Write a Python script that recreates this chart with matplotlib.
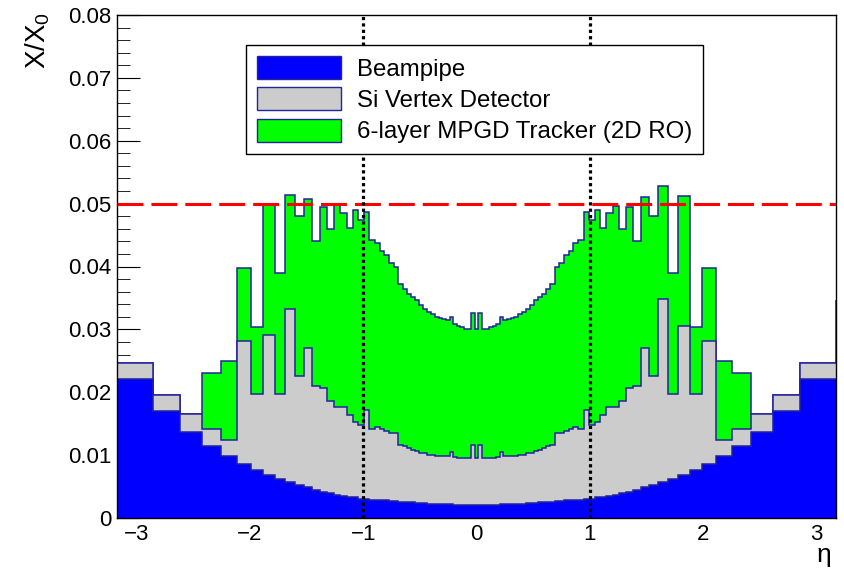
import numpy as np
import matplotlib
matplotlib.use("Agg")
import matplotlib.pyplot as plt
from matplotlib.patches import Patch
from matplotlib.ticker import MultipleLocator

plt.rcParams['font.family'] = 'Liberation Sans'
plt.rcParams['mathtext.fontset'] = 'custom'
plt.rcParams['mathtext.rm'] = 'Liberation Sans'
plt.rcParams['mathtext.it'] = 'Liberation Sans:italic'

# binning: 95 equal steps in polar angle, 175.2 deg -> 4.8 deg
theta_edges = np.linspace(175.2, 4.8, 96)
eta_edges = -np.log(np.tan(np.radians(theta_edges) / 2))

# stacked tops (X/X0) per bin
beampipe = [
    0.0221, 0.0170, 0.0136, 0.0115, 0.0099, 0.0086, 0.0077, 0.0069, 0.0062, 0.0058,
    0.0053, 0.0049, 0.0045, 0.0042, 0.0039, 0.0037, 0.0035, 0.0034, 0.0033, 0.0031,
    0.0030, 0.0029, 0.0029, 0.0028, 0.0028, 0.0027, 0.0027, 0.0026, 0.0026, 0.0025,
    0.0025, 0.0024, 0.0024, 0.0024, 0.0023, 0.0023, 0.0023, 0.0022, 0.0022, 0.0022,
    0.0022, 0.0021, 0.0021, 0.0021, 0.0021, 0.0021, 0.0021, 0.0021,
    0.0021, 0.0021, 0.0021, 0.0021, 0.0021, 0.0021, 0.0022,
    0.0022, 0.0022, 0.0022, 0.0023, 0.0023, 0.0023, 0.0024, 0.0024, 0.0024, 0.0025,
    0.0025, 0.0026, 0.0026, 0.0027, 0.0027, 0.0028, 0.0028, 0.0029, 0.0029, 0.0030,
    0.0031, 0.0033, 0.0034, 0.0035, 0.0037, 0.0039, 0.0042, 0.0045, 0.0049, 0.0053,
    0.0058, 0.0062, 0.0069, 0.0077, 0.0086, 0.0099, 0.0115, 0.0136, 0.0170, 0.0221,
]
vertex_top = [
    0.0247, 0.0196, 0.0165, 0.0142, 0.0124, 0.0282, 0.0197, 0.0291, 0.0197, 0.0333,
    0.0226, 0.0270, 0.0210, 0.0206, 0.0186, 0.0177, 0.0176, 0.0164, 0.0152, 0.0148,
    0.0172, 0.0141, 0.0144, 0.0141, 0.0139, 0.0135, 0.0135, 0.0116, 0.0114, 0.0111,
    0.0108, 0.0106, 0.0104, 0.0103, 0.0100, 0.0100, 0.0099, 0.0099, 0.0099, 0.0098,
    0.0105, 0.0097, 0.0096, 0.0096, 0.0095, 0.0095, 0.0116, 0.0095,
    0.0116, 0.0095, 0.0095, 0.0096, 0.0096, 0.0097, 0.0105,
    0.0098, 0.0099, 0.0099, 0.0099, 0.0100, 0.0100, 0.0103, 0.0104, 0.0106, 0.0108,
    0.0111, 0.0114, 0.0116, 0.0135, 0.0135, 0.0139, 0.0141, 0.0144, 0.0141, 0.0172,
    0.0148, 0.0152, 0.0164, 0.0176, 0.0177, 0.0186, 0.0206, 0.0210, 0.0270, 0.0226,
    0.0348, 0.0197, 0.0305, 0.0197, 0.0282, 0.0124, 0.0142, 0.0165, 0.0196, 0.0247,
]
tracker_top = [
    0.0247, 0.0196, 0.0165, 0.0230, 0.0249, 0.0398, 0.0304, 0.0498, 0.0390, 0.0514,
    0.0481, 0.0508, 0.0441, 0.0494, 0.0459, 0.0498, 0.0485, 0.0461, 0.0490, 0.0474,
    0.0486, 0.0442, 0.0438, 0.0424, 0.0418, 0.0406, 0.0399, 0.0372, 0.0364, 0.0357,
    0.0352, 0.0346, 0.0339, 0.0333, 0.0328, 0.0324, 0.0320, 0.0318, 0.0317, 0.0315,
    0.0320, 0.0309, 0.0305, 0.0303, 0.0301, 0.0301, 0.0326, 0.0301,
    0.0326, 0.0301, 0.0301, 0.0303, 0.0305, 0.0309, 0.0320,
    0.0315, 0.0317, 0.0318, 0.0320, 0.0324, 0.0328, 0.0333, 0.0339, 0.0346, 0.0352,
    0.0357, 0.0364, 0.0372, 0.0399, 0.0406, 0.0418, 0.0424, 0.0438, 0.0442, 0.0486,
    0.0474, 0.0490, 0.0461, 0.0485, 0.0497, 0.0459, 0.0494, 0.0441, 0.0510, 0.0481,
    0.0528, 0.0390, 0.0512, 0.0304, 0.0398, 0.0249, 0.0230, 0.0165, 0.0196, 0.0247,
]
outside_total = 0.0347  # total of the bins just outside the drawn range

labels = ["Beampipe", "Si Vertex Detector", "6-layer MPGD Tracker (2D RO)"]
colors = ["#0000ff", "#cccccc", "#00ff00"]
line_col = "#23239a"

limit_x0 = 0.05
eta_marks = [-1, 1]
x_ticks = [-3, -2, -1, 0, 1, 2, 3]
y_ticks = [0, 0.01, 0.02, 0.03, 0.04, 0.05, 0.06, 0.07, 0.08]
y_ticklabels = ["0", "0.01", "0.02", "0.03", "0.04", "0.05", "0.06", "0.07", "0.08"]

fig = plt.figure(figsize=(8.45, 5.70), dpi=100)
ax = fig.add_axes([117 / 845, 1 - 518 / 570, 719 / 845, 503 / 570])
ax.set_axisbelow(True)

# draw top of stack first, like THStack
for top, col in [(tracker_top, colors[2]), (vertex_top, colors[1]), (beampipe, colors[0])]:
    ax.stairs(top, eta_edges, baseline=0, fill=True, color=col, lw=0, zorder=2)
    ax.stairs(top, eta_edges, baseline=None, color=line_col, lw=1.1, zorder=2)

ax.vlines([eta_edges[0], eta_edges[-1]], [tracker_top[0], tracker_top[-1]], outside_total,
          colors=line_col, lw=1.1, zorder=2)

ax.axhline(limit_x0, color="red", lw=2.2, dashes=(8.5, 2.6), zorder=4)
ax.vlines(eta_marks, 0, 0.08, colors="black", lw=2.3, linestyles=(0, (1.0, 1.0)), zorder=4)

ax.set_xlim(eta_edges[0], eta_edges[-1])
ax.set_ylim(0, 0.08)
ax.set_xticks(x_ticks)
ax.set_yticks(y_ticks)
ax.set_yticklabels(y_ticklabels)
ax.yaxis.set_minor_locator(MultipleLocator(0.002))
ax.xaxis.set_minor_locator(MultipleLocator(0.2))
ax.tick_params(axis="both", which="both", direction="in", labelsize=16)
ax.tick_params(axis="y", which="major", length=16.5, pad=4)
ax.tick_params(axis="y", which="minor", length=9)
ax.tick_params(axis="x", which="major", length=12, pad=4)
ax.tick_params(axis="x", which="minor", length=6)
for s in ax.spines.values():
    s.set_linewidth(1.0)
    s.set_zorder(3)

fig.text(38 / 845, 1 - 12 / 570, "X/X$_0$", rotation=90, ha="center", va="top", fontsize=20)
fig.text(824 / 845, 1 - 567 / 570, "η", ha="center", va="bottom", fontsize=19)

handles = [Patch(facecolor=c, edgecolor=line_col, lw=1) for c in colors]
leg = ax.legend(handles, labels, loc="upper left", bbox_to_anchor=(246 / 845, 1 - 45 / 570),
                bbox_transform=fig.transFigure, fontsize=17.3, frameon=True, fancybox=False,
                edgecolor="black", framealpha=1, borderpad=0.45, borderaxespad=0,
                handlelength=3.5, handleheight=1.1, handletextpad=0.65, labelspacing=0.28)
leg.get_frame().set_linewidth(1.0)
leg.set_zorder(5)

fig.savefig("out.png", dpi=100)
